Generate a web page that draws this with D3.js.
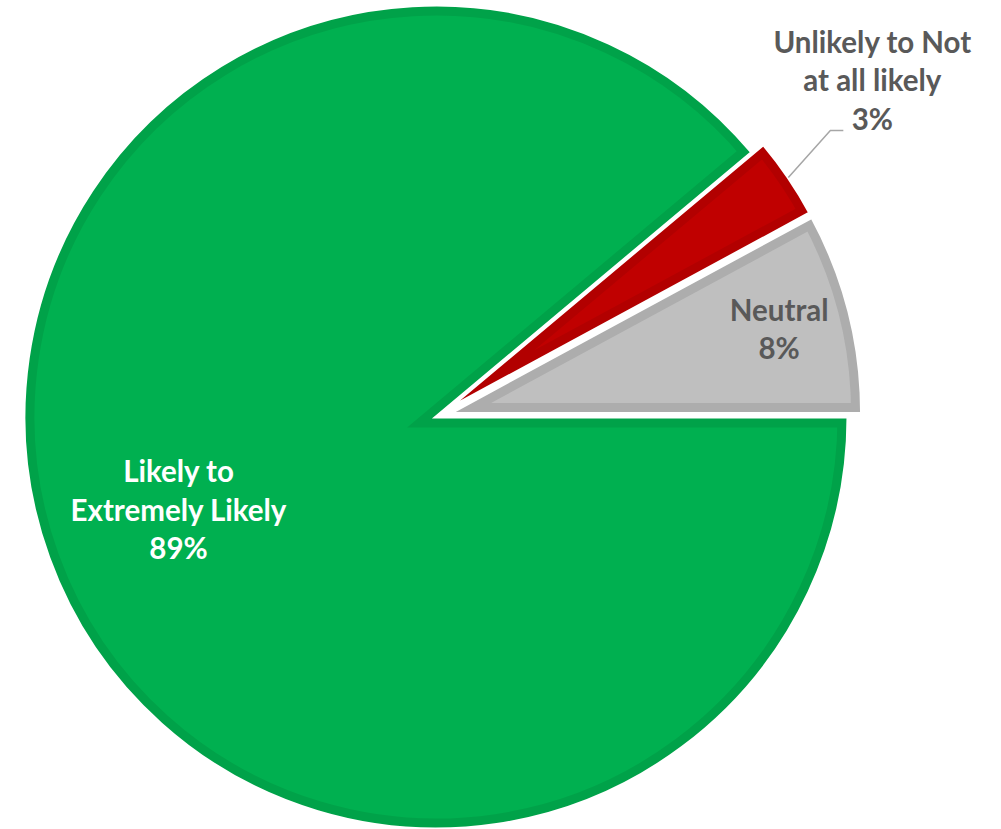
<!DOCTYPE html>
<html>
<head>
<meta charset="utf-8">
<script src="https://cdn.jsdelivr.net/npm/d3@7"></script>
<style>
  body { margin: 0; background: #fff; }
  svg { display: block; }
  text { font-family: Lato, "Open Sans", sans-serif; font-weight: 700; }
</style>
</head>
<body>
<div class="chart"></div>
<script>
// data
const categories = ["Likely to\nExtremely Likely", "Unlikely to Not\nat all likely", "Neutral"]
const values = [88.9, 3.2, 7.9]
const fillColors = ["#00B050", "#C00000", "#BFBFBF"]
const edgeColors = ["#00A249", "#B20000", "#ADADAD"]
const textColors = ["#FFFFFF", "#595959", "#595959"]

function drawPie() {
    const width = 1001, height = 829
    const radius = 412
    const cx = 436, cy = 417
    const explode = [0, 14, 14]
    const lineHeight = 38.5
    const total = d3.sum(values)
    const fmt = d3.format(".0%")

    const svg = d3.select(".chart").append("svg")
        .attr("width", width)
        .attr("height", height)

    const pie = d3.pie()
        .sort(null)
        .value(d => d)
        .startAngle(Math.PI / 2)
        .endAngle(Math.PI / 2 + 2 * Math.PI)

    const arc = d3.arc().innerRadius(0).outerRadius(radius)
    const arcs = pie(values)

    const defs = svg.append("defs")

    // point at radius r along angle a (d3 angles, clockwise from 12 o'clock)
    const polar = (a, r) => [Math.sin(a) * r, -Math.cos(a) * r]

    const slices = svg.selectAll(".slice")
        .data(arcs)
        .enter().append("g")
        .attr("class", "slice")
        .attr("transform", (d, i) => {
            const mid = (d.startAngle + d.endAngle) / 2
            const [ox, oy] = polar(mid, explode[i])
            return "translate(" + (cx + ox) + "," + (cy + oy) + ")"
        })

    slices.each(function (d, i) {
        defs.append("clipPath")
            .attr("id", "clip" + i)
            .append("path")
            .attr("d", arc(d))
    })

    slices.append("path")
        .attr("d", arc)
        .attr("fill", (d, i) => fillColors[i])

    // darker inner band
    slices.append("path")
        .attr("d", arc)
        .attr("fill", "none")
        .attr("stroke", (d, i) => edgeColors[i])
        .attr("stroke-width", 21)
        .attr("stroke-linejoin", "miter")
        .attr("clip-path", (d, i) => "url(#clip" + i + ")")

    slices.append("path")
        .attr("d", arc)
        .attr("fill", "none")
        .attr("stroke", "#fff")
        .attr("stroke-width", 3)
        .attr("stroke-linejoin", "miter")

    // labels
    const labelRadius = [274, 0, 340]
    arcs.forEach((d, i) => {
        const mid = (d.startAngle + d.endAngle) / 2
        const [ox, oy] = polar(mid, explode[i])
        const lines = categories[i].split("\n").concat([fmt(values[i] / total)])
        let tx, firstBase
        if (i === 1) {
            // outside label with leader line
            const p0 = polar(mid, radius)
            const x0 = cx + ox + p0[0], y0 = cy + oy + p0[1]
            const x1 = x0 + 42, y1 = y0 - 47
            svg.append("polyline")
                .attr("points", [[x0, y0], [x1, y1], [x1 + 13, y1]].join(" "))
                .attr("fill", "none")
                .attr("stroke", "#A6A6A6")
                .attr("stroke-width", 1.5)
            tx = x1 + 42
            firstBase = y1 - 1 - (lines.length - 1) * lineHeight
        } else {
            const p = polar(mid, labelRadius[i])
            tx = cx + ox + p[0]
            const vy = cy + oy + p[1]
            firstBase = vy - (lines.length - 1) * lineHeight / 2 + 10
        }
        const t = svg.append("text")
            .attr("text-anchor", "middle")
            .attr("font-size", 29.5)
            .attr("fill", textColors[i])
        lines.forEach((s, k) => {
            t.append("tspan")
                .attr("x", tx)
                .attr("y", firstBase + k * lineHeight)
                .text(s)
        })
    })
}

drawPie()
</script>
</body>
</html>
